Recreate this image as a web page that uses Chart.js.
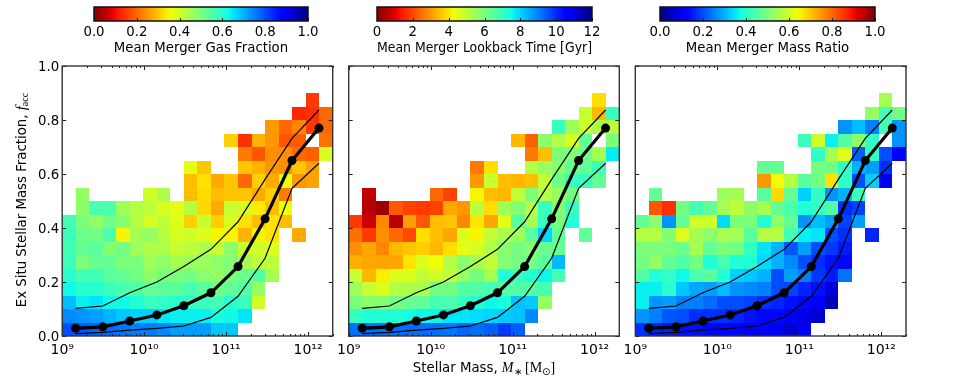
<!DOCTYPE html>
<html><head><meta charset="utf-8">
<style>html,body{margin:0;padding:0;background:#fff;width:954px;height:382px;overflow:hidden}canvas{position:absolute}</style>
<script src="https://cdn.jsdelivr.net/npm/chart.js@4"></script>
</head><body>
<canvas id="bar1"></canvas><canvas id="bar2"></canvas><canvas id="bar3"></canvas>
<canvas id="p1"></canvas><canvas id="p2"></canvas><canvas id="p3"></canvas>
<script>
const _ = null;
const stellarMass = [1.46e9,3.13e9,6.68e9,1.43e10,3.05e10,6.53e10,1.40e11,2.99e11,6.38e11,1.36e12];
const meanFraction = [.0285,.034,.0555,.078,.112,.16,.257,.434,.65,.77];
const upperFraction = [.1025,.111,.16,.2,.257,.321,.423,.58,.732,.837];
const lowerFraction = [.0085,.0135,.022,.028,.037,.069,.147,.288,.547,.64];
const yTicks = [0,.2,.4,.6,.8,1];
const xMajorTicks = [1e9,1e10,1e11,1e12];
const xTickLabels = ['10⁹','10¹⁰','10¹¹','10¹²'];
const barTicks01 = [0,.2,.4,.6,.8,1];
const barTicksGyr = [0,2,4,6,8,10,12];
const barTitles = ['Mean Merger Gas Fraction','Mean Merger Lookback Time [Gyr]','Mean Merger Mass Ratio'];
// rows run from the lowest fraction bin (0-0.05) upward, columns from the lowest mass bin
const gasFraction = [
[.8,.79,.78,.77,.76,.75,.75,.74,.72,.72,.72,.68,.68],
[.74,.73,.72,.7,.68,.67,.67,.65,.64,.64,.64,.62,.63,.65],
[.69,.64,.65,.63,.63,.61,.58,.59,.6,.59,.58,.57,.6,.58,.4],
[.63,.6,.6,.58,.56,.55,.53,.54,.54,.56,.54,.51,.53,.55,.47],
[.6,.57,.57,.54,.53,.51,.48,.5,.5,.51,.48,.47,.5,.52,.55,.45],
[.58,.5,.53,.53,.5,.5,.46,.48,.45,.46,.46,.48,.49,.45,.42,.42],
[.57,.53,.54,.49,.51,.46,.44,.44,.41,.42,.44,.41,.48,.41,.4,.38],
[.58,.52,.51,.56,.35,.45,.47,.43,.39,.4,.38,.35,.35,.28,.35,.33,_,.27],
[.57,.5,.47,.51,.49,.43,.39,.42,.38,.31,.41,.31,.39,.33,.29,.33,.29],
[_,.48,.56,.56,.46,.43,.42,.39,.375,.43,.32,.27,.41,.39,.34,.29,.36],
[_,.47,_,_,_,_,.4,.44,_,.29,.32,.29,.3,.3,.27,.31,.22],
[_,_,_,_,_,_,_,_,_,.29,.33,.27,.3,.2,.31,.27,.37,.25,.26],
[_,_,_,_,_,_,_,_,_,.37,.3,_,_,.3,.28,.25,.24,.3,.26],
[_,_,_,_,_,_,_,_,_,_,_,_,_,.22,.18,.24,.24,.2,.19,.39],
[_,_,_,_,_,_,_,_,_,_,_,_,.31,.14,.28,.25,.18,.19,_,.21],
[_,_,_,_,_,_,_,_,_,_,_,_,_,_,_,.25,.2,.23,.15,.2],
[_,_,_,_,_,_,_,_,_,_,_,_,_,_,_,_,_,.13,.14,.2],
[_,_,_,_,_,_,_,_,_,_,_,_,_,_,_,_,_,_,.15]
];
const lookbackGyr = [
[9.2,9.2,9.2,9.2,9.2,9.2,9.2,9.1,9.3,9.2,9.4,9.8,9.4],
[7,7.3,7.3,7.3,7.5,7.6,7.6,7.8,7.8,7.9,8,8.1,8.2,8.9],
[6,5.8,5.9,6.1,6.3,6.4,6.8,6.7,7,7.3,7.6,7.4,8.2,8.1,5.6],
[5.5,4.9,4.6,5.2,5.3,5.3,6.1,6.1,6.6,6.6,6.8,6.6,6.6,6.6,6.8],
[4.9,3.4,4.1,4.6,4.6,5,4.8,5,5.6,6.1,5.4,7.3,7,7.3,7.6,6.8],
[3.3,3.2,3.2,3.2,4,4.6,4.3,5.2,5.8,5.4,5,5.9,6.1,6.1,6.5,8.3],
[2.9,3.2,2.8,3.4,3.6,3.7,3.4,3.9,4.5,4.7,5.2,5.8,6.1,5.8,6.3,6.3],
[2.5,1.8,2.9,2.4,2,3.9,3.5,3.2,4.6,4.2,5,5.3,5.5,6.5,8,6.4,_,6.4],
[1.8,.8,2.8,.6,3.1,2.2,3.5,3.6,2.8,4,3.2,4.5,6.5,5.4,7,6,7.3],
[_,.6,.3,2.2,1.9,1.8,1.9,3.2,3,5.1,3.9,5.5,5.9,5.2,7,5.9,7],
[_,.7,_,_,_,_,2.4,1.9,_,4.2,3.5,3.4,5,6,5.2,5.6,6.1],
[_,_,_,_,_,_,_,_,_,3,4.9,3.5,3.4,3.5,5,6.2,7,7,6.4],
[_,_,_,_,_,_,_,_,_,2.6,3.9,_,_,5.2,5.6,5.8,6.3,6.4,6.9],
[_,_,_,_,_,_,_,_,_,_,_,_,_,2.6,3.5,6,6,6.2,5.4,7.7],
[_,_,_,_,_,_,_,_,_,_,_,_,3.4,2.3,5.8,5.2,4.7,6.4,_,6],
[_,_,_,_,_,_,_,_,_,_,_,_,_,_,_,7,5.5,4.8,5.3,5.1],
[_,_,_,_,_,_,_,_,_,_,_,_,_,_,_,_,_,4.9,3.4,7],
[_,_,_,_,_,_,_,_,_,_,_,_,_,_,_,_,_,_,3.9]
];
const massRatio = [
[.17,.16,.15,.14,.14,.13,.13,.13,.12,.11,.1,.07,.1],
[.27,.25,.21,.2,.17,.17,.17,.16,.14,.13,.13,.11,.09,.07],
[.36,.27,.28,.25,.25,.23,.2,.2,.19,.17,.16,.14,.13,.12,.05],
[.36,.36,.4,.32,.29,.28,.31,.27,.26,.25,.2,.19,.16,.14,.08],
[.45,.39,.41,.37,.44,.46,.39,.33,.32,.3,.2,.28,.25,.18,.15,.24],
[.49,.53,.47,.45,.49,.39,.44,.39,.39,.34,.3,.26,.2,.17,.14,.13],
[.5,.5,.5,.48,.55,.47,.5,.49,.41,.35,.3,.21,.28,.2,.18,.15],
[.57,.57,.51,.62,.55,.52,.55,.55,.46,.57,.57,.43,.36,.35,.2,.17,_,.16],
[.47,.52,.27,.47,.6,.6,.34,.5,.5,.39,.53,.47,.27,.31,.28,.19,.28],
[_,.82,.86,.49,.43,.47,.55,.58,.52,.55,.47,.44,.39,.41,.45,.17,.19],
[_,.47,_,_,_,_,.54,.55,_,.46,.68,.47,.33,.41,.27,.3,.42],
[_,_,_,_,_,_,_,_,_,.75,.64,.57,.46,.49,.67,.41,.2,.33,.1],
[_,_,_,_,_,_,_,_,_,.47,.47,_,_,.49,.49,.41,.3,.28,.17],
[_,_,_,_,_,_,_,_,_,_,_,_,_,.41,.55,.62,.22,.41,.2,.11],
[_,_,_,_,_,_,_,_,_,_,_,_,.42,.6,.36,.45,.52,.41,_,.27],
[_,_,_,_,_,_,_,_,_,_,_,_,_,_,_,.27,.31,.25,.43,.27],
[_,_,_,_,_,_,_,_,_,_,_,_,_,_,_,_,_,.53,.43,.49],
[_,_,_,_,_,_,_,_,_,_,_,_,_,_,_,_,_,_,.55]
];

const FONT = '"DejaVu Sans"';
const SERIF = '"Liberation Serif"';
const XMIN = 1e9, XMAX = 2e12, NBINS = 20;
const massEdge = i => XMIN * Math.pow(XMAX / XMIN, i / NBINS);
const fracEdge = i => i / NBINS;
function jet(t) {
  t = Math.max(0, Math.min(1, t));
  const ramp = pts => { for (let i = 1; i < pts.length; i++) if (t <= pts[i][0]) {
    const a = pts[i-1], b = pts[i]; return a[1] + (b[1]-a[1]) * (t-a[0]) / (b[0]-a[0]); } return pts[pts.length-1][1]; };
  const r = ramp([[0,0],[.35,0],[.66,1],[.89,1],[1,.5]]);
  const g = ramp([[0,0],[.125,0],[.375,1],[.64,1],[.91,0],[1,0]]);
  const b = ramp([[0,.5],[.11,1],[.34,1],[.65,0],[1,0]]);
  return `rgb(${Math.round(r*255)},${Math.round(g*255)},${Math.round(b*255)})`;
}
const colorOf = [v => jet(1 - v), v => jet(1 - v / 12), v => jet(v)];
const matrices = [gasFraction, lookbackGyr, massRatio];

function rich(ctx, parts, cx, cy, rot) {
  ctx.save();
  ctx.textBaseline = 'alphabetic'; ctx.textAlign = 'left'; ctx.fillStyle = '#000';
  let w = 0;
  for (const p of parts) { ctx.font = p.f; w += ctx.measureText(p.t).width; }
  ctx.translate(cx, cy); ctx.rotate(rot);
  let x = -w / 2;
  for (const p of parts) { ctx.font = p.f; ctx.fillText(p.t, x, p.dy || 0); x += ctx.measureText(p.t).width; }
  ctx.restore();
}

function panelPlugin(idx, canvasLeft) {
  return {
    id: 'panel' + idx,
    beforeDatasetsDraw(chart) {
      const {ctx, scales: {x, y}} = chart;
      matrices[idx].forEach((row, r) => row.forEach((v, c) => {
        if (v === null || v === undefined) return;
        const x0 = Math.round(x.getPixelForValue(massEdge(c))), x1 = Math.round(x.getPixelForValue(massEdge(c + 1)));
        const y0 = Math.round(y.getPixelForValue(fracEdge(r + 1))), y1 = Math.round(y.getPixelForValue(fracEdge(r)));
        ctx.fillStyle = colorOf[idx](v);
        ctx.fillRect(x0, y0, x1 - x0, y1 - y0);
      }));
    },
    afterDatasetsDraw(chart) {
      const {ctx, chartArea: a, scales: {x, y}} = chart;
      ctx.save();
      ctx.strokeStyle = '#222'; ctx.lineWidth = 1;
      ctx.beginPath();
      const tick = (px, len) => { ctx.moveTo(px, a.top); ctx.lineTo(px, a.top + len); ctx.moveTo(px, a.bottom); ctx.lineTo(px, a.bottom - len); };
      for (let e = 9; e <= 12; e++) for (let m = 1; m < 10; m++) {
        const v = m * Math.pow(10, e); if (v > XMAX) continue;
        tick(Math.round(x.getPixelForValue(v)) + .5, m === 1 ? 4 : 2);
      }
      yTicks.forEach(v => { const p = Math.round(y.getPixelForValue(v)) + .5;
        ctx.moveTo(a.left, p); ctx.lineTo(a.left + 4, p); ctx.moveTo(a.right, p); ctx.lineTo(a.right - 4, p); });
      ctx.stroke();
      ctx.strokeStyle = '#333'; ctx.lineWidth = 1.4;
      ctx.strokeRect(a.left, a.top, a.right - a.left, a.bottom - a.top);
      ctx.restore();
      if (idx === 0) rich(ctx, [
        {t: 'Ex Situ Stellar Mass Fraction, ', f: `13.3px ${FONT}`},
        {t: 'f', f: `italic 15px ${SERIF}`},
        {t: 'acc', f: `10px ${SERIF}`, dy: 2}
      ], 26, 200, -Math.PI / 2);
      if (idx === 1) rich(ctx, [
        {t: 'Stellar Mass, ', f: `13.3px ${FONT}`},
        {t: 'M', f: `italic 14px ${SERIF}`},
        {t: '∗', f: `10px ${SERIF}`, dy: 3},
        {t: ' [M', f: `14px ${SERIF}`},
        {t: '⊙', f: `10px "DejaVu Sans"`, dy: 3},
        {t: ']', f: `14px ${SERIF}`}
      ], 484 - canvasLeft, 372, 0);
    }
  };
}

const panelBoxes = [
  {left: 0, width: 340, yw: 62.2, pr: 7.3},
  {left: 328, width: 300, yw: 20.7, pr: 8.7},
  {left: 615, width: 339, yw: 20.3, pr: 48}
];
panelBoxes.forEach((b, i) => {
  const cv = document.getElementById('p' + (i + 1));
  cv.width = b.width; cv.height = 382;
  cv.style.left = b.left + 'px'; cv.style.top = '0px';
  new Chart(cv, {
    type: 'scatter',
    plugins: [panelPlugin(i, b.left)],
    data: { datasets: [
      {label: 'Upper', data: stellarMass.map((m, k) => ({x: m, y: upperFraction[k]})), showLine: true, borderColor: '#000', borderWidth: 1.2, pointRadius: 0, tension: 0},
      {label: 'Lower', data: stellarMass.map((m, k) => ({x: m, y: lowerFraction[k]})), showLine: true, borderColor: '#000', borderWidth: 1.2, pointRadius: 0, tension: 0},
      {label: 'Mean', data: stellarMass.map((m, k) => ({x: m, y: meanFraction[k]})), showLine: true, borderColor: '#000', backgroundColor: '#000', borderWidth: 3.2, pointRadius: 4.5, pointBorderWidth: 0, tension: 0}
    ]},
    options: {
      responsive: false, animation: false, devicePixelRatio: 1,
      layout: {padding: {left: 0, right: b.pr, top: 66, bottom: 0}},
      plugins: {legend: {display: false}, tooltip: {enabled: false}, title: {display: false}},
      scales: {
        x: {
          type: 'logarithmic', min: XMIN, max: XMAX,
          grid: {display: false, drawTicks: false}, border: {display: false},
          afterBuildTicks: s => { s.ticks = xMajorTicks.map(v => ({value: v, major: true})); },
          afterFit: s => { s.height = 46; },
          ticks: {autoSkip: false, maxRotation: 0, minRotation: 0, padding: 6, color: '#000', font: {family: FONT, size: 14},
            callback: v => xTickLabels[xMajorTicks.indexOf(v)] ?? ''}
        },
        y: {
          min: 0, max: 1,
          grid: {display: false, drawTicks: false}, border: {display: false},
          afterBuildTicks: s => { s.ticks = yTicks.map(v => ({value: v})); },
          afterFit: s => { s.width = b.yw; },
          ticks: {display: i === 0, padding: 3, labelOffset: 1.5, color: '#000', font: {family: FONT, size: 13.3}, callback: v => v.toFixed(1)}
        }
      }
    }
  });
});

const barBoxes = [
  {x0: 94, x1: 308, ticks: barTicks01, max: 1, fmt: v => v.toFixed(1), cmap: colorOf[0]},
  {x0: 377, x1: 592, ticks: barTicksGyr, max: 12, fmt: v => String(v), cmap: colorOf[1]},
  {x0: 660, x1: 875, ticks: barTicks01, max: 1, fmt: v => v.toFixed(1), cmap: colorOf[2]}
];
barBoxes.forEach((b, i) => {
  const cv = document.getElementById('bar' + (i + 1));
  const left = b.x0 - 60, width = b.x1 - b.x0 + 120;
  cv.width = width; cv.height = 57;
  cv.style.left = left + 'px'; cv.style.top = '0px';
  new Chart(cv, {
    type: 'scatter',
    data: {datasets: [{data: [], pointRadius: 0}]},
    plugins: [{
      id: 'cbar' + i,
      beforeDatasetsDraw(chart) {
        const {ctx, chartArea: a, scales: {x}} = chart;
        const g = ctx.createLinearGradient(x.getPixelForValue(0), 0, x.getPixelForValue(b.max), 0);
        for (let k = 0; k <= 64; k++) g.addColorStop(k / 64, b.cmap(b.max * k / 64));
        ctx.fillStyle = g;
        ctx.fillRect(a.left, a.top, a.right - a.left, a.bottom - a.top);
        ctx.save();
        ctx.strokeStyle = '#222'; ctx.lineWidth = 1;
        ctx.beginPath();
        b.ticks.forEach(v => { const p = Math.round(x.getPixelForValue(v)) + .5; ctx.moveTo(p, a.bottom); ctx.lineTo(p, a.bottom - 3); });
        ctx.stroke();
        ctx.strokeStyle = '#111'; ctx.lineWidth = 1.5;
        ctx.strokeRect(a.left, a.top, a.right - a.left, a.bottom - a.top);
        ctx.restore();
      }
    }],
    options: {
      responsive: false, animation: false, devicePixelRatio: 1,
      layout: {padding: {left: 60, right: 60, top: 7, bottom: 0}},
      plugins: {legend: {display: false}, tooltip: {enabled: false}},
      scales: {
        x: {
          type: 'linear', min: 0, max: b.max,
          grid: {display: false, drawTicks: false}, border: {display: false},
          afterBuildTicks: s => { s.ticks = b.ticks.map(v => ({value: v})); },
          afterFit: s => { s.height = 36; },
          title: {display: true, text: barTitles[i], color: '#000', font: {family: FONT, size: 13.3}, padding: {top: 1, bottom: 0}},
          ticks: {autoSkip: false, maxRotation: 0, padding: 4, color: '#000', font: {family: FONT, size: 13.3}, callback: v => b.fmt(v)}
        },
        y: {display: false, min: 0, max: 1}
      }
    }
  });
});
</script>
</body></html>
